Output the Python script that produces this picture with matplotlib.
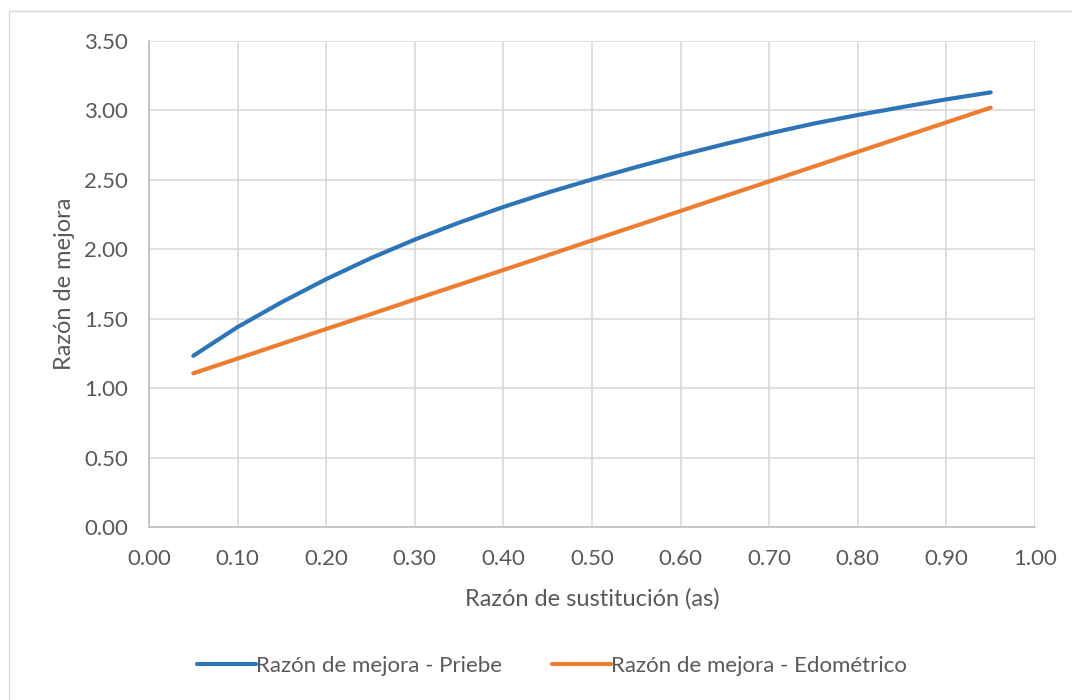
import matplotlib
matplotlib.use("Agg")
import matplotlib.pyplot as plt
from matplotlib.patches import Rectangle

plt.rcParams['font.family'] = ['Lato', 'DejaVu Sans']

# Replacement ratio (as)
razon_sustitucion = [0.05, 0.10, 0.15, 0.20, 0.25, 0.30, 0.35, 0.40, 0.45, 0.50,
                     0.55, 0.60, 0.65, 0.70, 0.75, 0.80, 0.85, 0.90, 0.95]
# Improvement ratio by Priebe's method
mejora_priebe = [1.233, 1.440, 1.620, 1.785, 1.935, 2.070, 2.192, 2.305, 2.408, 2.503,
                 2.592, 2.678, 2.758, 2.834, 2.905, 2.967, 3.024, 3.080, 3.130]
# Improvement ratio from oedometer analysis
mejora_edometrico = [1.107, 1.213, 1.320, 1.426, 1.532, 1.639, 1.745, 1.851, 1.957, 2.064,
                     2.170, 2.276, 2.383, 2.489, 2.595, 2.702, 2.808, 2.914, 3.020]

x_ticks = [0.0, 0.1, 0.2, 0.3, 0.4, 0.5, 0.6, 0.7, 0.8, 0.9, 1.0]
y_ticks = [0.0, 0.5, 1.0, 1.5, 2.0, 2.5, 3.0, 3.5]

W, H = 1072, 700
fig = plt.figure(figsize=(W / 100, H / 100), dpi=100)

# Chart frame
fig.patches.append(Rectangle((9 / W, -0.01), 1.2, 1 - 11 / H + 0.01,
                             transform=fig.transFigure, fill=False,
                             edgecolor='#d9d9d9', linewidth=1.0))

ax = fig.add_axes([149 / W, 1 - 527 / H, (1035 - 149) / W, (527 - 41) / H])

text_color = '#595959'
ax.plot(razon_sustitucion, mejora_priebe, color='#2e75b6', linewidth=3.0,
        solid_capstyle='round', label='Razón de mejora - Priebe')
ax.plot(razon_sustitucion, mejora_edometrico, color='#ed7d31', linewidth=3.0,
        solid_capstyle='round', label='Razón de mejora - Edométrico')

ax.set_xlim(0, 1.0)
ax.set_ylim(0, 3.5)
ax.set_xticks(x_ticks)
ax.set_yticks(y_ticks)
ax.set_xticklabels([f'{v:.2f}' for v in x_ticks])
ax.set_yticklabels([f'{v:.2f}' for v in y_ticks])
ax.grid(True, color='#d9d9d9', linewidth=1.2)
ax.set_axisbelow(True)
for side in ('top', 'right'):
    ax.spines[side].set_visible(False)
for side in ('left', 'bottom'):
    ax.spines[side].set_color('#bfbfbf')
    ax.spines[side].set_linewidth(1.2)
ax.tick_params(length=0, labelsize=16, labelcolor=text_color)
ax.tick_params(axis='y', pad=15)
ax.tick_params(axis='x', pad=15.5)

ax.set_xlabel('Razón de sustitución (as)', fontsize=17, color=text_color, labelpad=14)
ax.set_ylabel('Razón de mejora', fontsize=17, color=text_color, labelpad=6.5)

leg = fig.legend(loc='center', bbox_to_anchor=(552 / W, 1 - 666 / H), ncol=2,
                 frameon=False, fontsize=16, handlelength=2.65, columnspacing=2.25,
                 handletextpad=0.0)
for t in leg.get_texts():
    t.set_color(text_color)

fig.savefig('out.png', dpi=100, facecolor='white')
